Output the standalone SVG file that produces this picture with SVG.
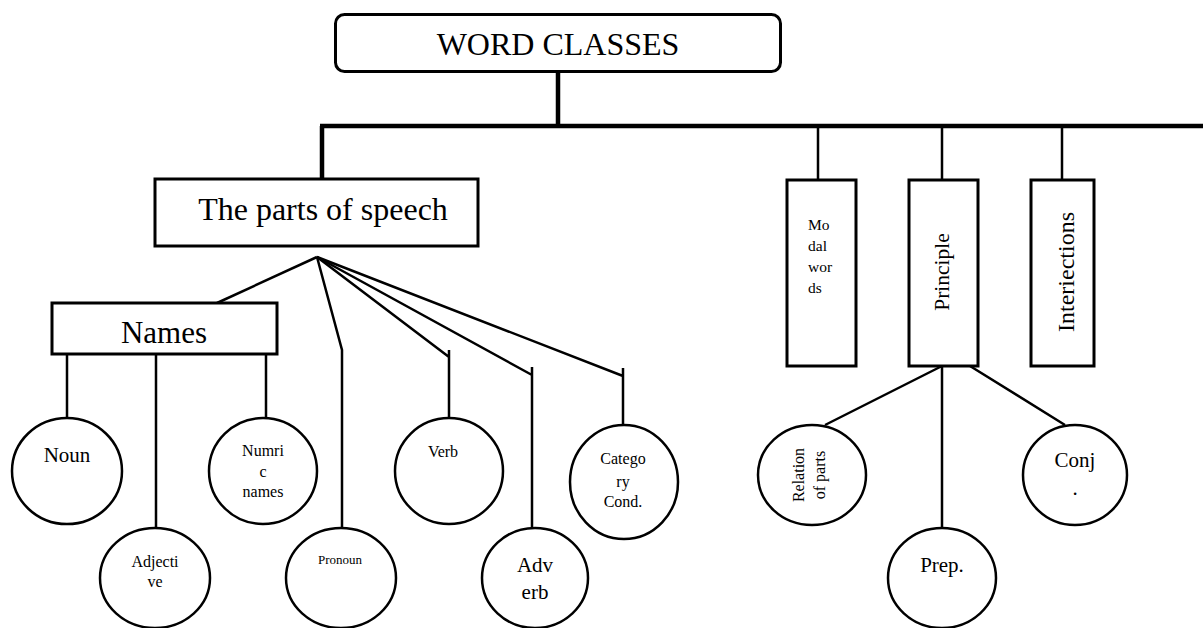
<svg xmlns="http://www.w3.org/2000/svg" width="1203" height="628" viewBox="0 0 1203 628">
<style>
.box{fill:#fff;stroke:#000;stroke-width:3}
.circ{fill:#fff;stroke:#000;stroke-width:2.5}
.ln{fill:none;stroke:#000;stroke-width:2.5}
.thick{fill:none;stroke:#000;stroke-width:4.5}
text{font-family:"Liberation Serif","Times New Roman",serif;fill:#000}
.c{text-anchor:middle}
</style>
<rect width="1203" height="628" fill="#fff"/>
<g id="connectors">
<path class="thick" d="M558 72V126M320 126H1203M322 126V179"/>
<path class="ln" d="M818 126V180M942 126V180M1062 126V180"/>
<path class="ln" d="M317 257L217 303"/>
<path class="ln" d="M67 350V418M156 350V529M266 350V420"/>
<path class="ln" d="M317 257L342 350V529"/>
<path class="ln" d="M317 257L449 357M449 350V417"/>
<path class="ln" d="M317 257L532 375M532 367V529"/>
<path class="ln" d="M317 257L623 376M623 368V425"/>
<path class="ln" d="M942 366L825 425M942 366V529M970 366L1065 425"/>
</g>
<g id="word-classes">
<rect class="box" x="335.5" y="14.5" width="445" height="57" rx="9"/>
<text class="c" x="558" y="55" font-size="32">WORD CLASSES</text>
</g>
<g id="parts-of-speech">
<rect class="box" x="155" y="179" width="323" height="67"/>
<text class="c" x="323" y="220" font-size="32">The parts of speech</text>
</g>
<g id="names">
<rect class="box" x="52" y="303" width="225" height="51"/>
<text class="c" x="164" y="343" font-size="31">Names</text>
</g>
<g id="noun">
<ellipse class="circ" cx="67" cy="471" rx="55" ry="53"/>
<text class="c" x="67" y="462" font-size="21">Noun</text>
</g>
<g id="adjective">
<ellipse class="circ" cx="155" cy="578" rx="55" ry="50"/>
<text class="c" x="155" y="567" font-size="16">Adjecti</text>
<text class="c" x="155" y="587" font-size="16">ve</text>
</g>
<g id="numric-names">
<ellipse class="circ" cx="263" cy="471" rx="54" ry="53"/>
<text class="c" x="263" y="456" font-size="16">Numri</text>
<text class="c" x="263" y="477" font-size="16">c</text>
<text class="c" x="263" y="497" font-size="16">names</text>
</g>
<g id="pronoun">
<ellipse class="circ" cx="341" cy="578" rx="55" ry="50"/>
<text class="c" x="340" y="564" font-size="13">Pronoun</text>
</g>
<g id="verb">
<ellipse class="circ" cx="449" cy="471" rx="54" ry="53"/>
<text class="c" x="443" y="457" font-size="16">Verb</text>
</g>
<g id="adverb">
<ellipse class="circ" cx="535" cy="578" rx="53" ry="50"/>
<text class="c" x="535" y="572" font-size="21">Adv</text>
<text class="c" x="535" y="599" font-size="21">erb</text>
</g>
<g id="category-cond">
<ellipse class="circ" cx="624" cy="482" rx="54" ry="57"/>
<text class="c" x="623" y="464" font-size="16">Catego</text>
<text class="c" x="623" y="487" font-size="16">ry</text>
<text class="c" x="623" y="507" font-size="16">Cond.</text>
</g>
<g id="modal-words">
<rect class="box" x="787" y="180" width="69" height="186"/>
<text x="808" y="230" font-size="15.5">Mo</text>
<text x="808" y="251" font-size="15.5">dal</text>
<text x="808" y="272" font-size="15.5">wor</text>
<text x="808" y="293" font-size="15.5">ds</text>
</g>
<g id="principle">
<rect class="box" x="909" y="180" width="69" height="186"/>
<text class="c" transform="translate(949 272) rotate(-90)" font-size="21.5">Principle</text>
</g>
<g id="interiections">
<rect class="box" x="1031" y="180" width="63" height="186"/>
<text class="c" transform="translate(1074 272) rotate(-90)" font-size="24">Interiections</text>
</g>
<g id="relation-of-parts">
<ellipse class="circ" cx="812" cy="475" rx="54" ry="50"/>
<text class="c" transform="translate(804 475) rotate(-90)" font-size="16">Relation</text>
<text class="c" transform="translate(825 475) rotate(-90)" font-size="16">of parts</text>
</g>
<g id="prep">
<ellipse class="circ" cx="942" cy="578" rx="54" ry="50"/>
<text class="c" x="942" y="572" font-size="21">Prep.</text>
</g>
<g id="conj">
<ellipse class="circ" cx="1075" cy="475" rx="52" ry="50"/>
<text class="c" x="1075" y="467" font-size="21">Conj</text>
<text class="c" x="1075" y="495" font-size="21">.</text>
</g>
</svg>
